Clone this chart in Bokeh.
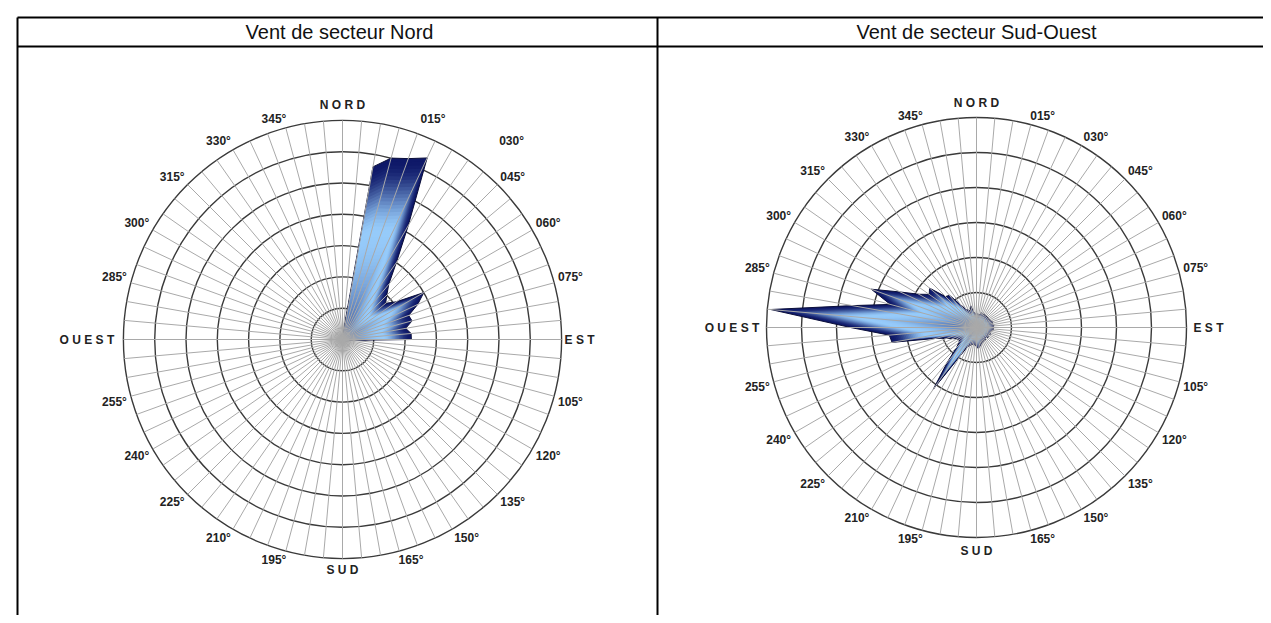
import numpy as np
from bokeh.plotting import figure
from bokeh.models import Range1d
from bokeh.embed import file_html
from bokeh.resources import INLINE
from bokeh.core.properties import value

# ---------------- DATA ----------------
directions = list(range(0, 360, 5))  # 72 wind directions (degrees)

titles = ["Vent de secteur Nord", "Vent de secteur Sud-Ouest"]

nord_values = [
    0.15, 0.2, 5.6, 6.0, 6.15, 6.4, 4.2, 3.0, 2.3, 2.0, 1.8, 2.1,      # 0-55
    3.0, 2.65, 2.25, 2.3, 2.05, 2.2, 2.2, 0.3, 0.2, 0.2, 0.15, 0.15,   # 60-115
    0.1, 0.1, 0.1, 0.1, 0.1, 0.1, 0.1, 0.1, 0.1, 0.1, 0.1, 0.1,        # 120-175
    0.1, 0.1, 0.1, 0.1, 0.1, 0.1, 0.1, 0.1, 0.1, 0.1, 0.1, 0.1,        # 180-235
    0.1, 0.1, 0.1, 0.1, 0.1, 0.1, 0.1, 0.1, 0.1, 0.1, 0.1, 0.1,        # 240-295
    0.1, 0.1, 0.1, 0.1, 0.1, 0.1, 0.1, 0.1, 0.15, 0.15, 0.15, 0.15,    # 300-355
]

sudouest_values = [
    0.35, 0.4, 0.35, 0.4, 0.45, 0.4, 0.45, 0.4, 0.45, 0.4, 0.45, 0.4,  # 0-55
    0.45, 0.45, 0.5, 0.45, 0.5, 0.5, 0.45, 0.5, 0.45, 0.45, 0.4, 0.45, # 60-115
    0.4, 0.4, 0.45, 0.4, 0.4, 0.45, 0.4, 0.45, 0.45, 0.5, 0.55, 0.6,   # 120-175
    0.55, 0.5, 0.5, 0.5, 0.55, 0.6, 0.95, 2.15, 1.3, 0.8, 0.65, 0.6,   # 180-235
    0.65, 0.75, 0.9, 1.2, 2.45, 2.5, 3.6, 5.9, 3.6, 2.55, 3.2, 2.4,    # 240-295
    1.9, 1.65, 1.75, 1.25, 1.2, 0.8, 0.6, 0.55, 0.5, 0.65, 0.45, 0.4,  # 300-355
]

label_angles = list(range(15, 360, 15))
cardinal_labels = ["N O R D", "E S T", "S U D", "O U E S T"]
cardinal_angles = [0, 90, 180, 270]

# ---------------- LAYOUT ----------------
W, H = 1263, 615
p = figure(width=W, height=H, x_range=Range1d(0, W), y_range=Range1d(H, 0),
           output_backend="svg", toolbar_location=None, min_border=0,
           x_axis_type=None, y_axis_type=None)
p.grid.visible = False
p.outline_line_color = None
p.background_fill_color = "white"

FONT = value("Liberation Sans")

# table lines
p.segment(x0=[17, 17, 17, 657], y0=[17, 46, 17, 17],
          x1=[W, W, 17, 657], y1=[17, 46, H, H],
          line_color="black", line_width=2)

p.text(x=[339, 976], y=[31, 31], text=titles, text_font=FONT, text_font_size="20px",
       text_align="center", text_baseline="middle", text_color="#111111")

DARK = np.array([14, 24, 104])
LIGHT = np.array([150, 203, 250])


def shade(k):
    if k >= 0.6:
        g = (1 - k) / 0.4
    else:
        g = 0.4 + 0.6 * k / 0.6
    g = g * g * (3 - 2 * g)
    c = DARK + (LIGHT - DARK) * g
    return "#%02x%02x%02x" % tuple(int(round(v)) for v in c)


def corner(s):
    return np.sign(s) * min(1.0, abs(s) / 0.3)


def rose(cx, cy, unit, nrings, vals, label_dx, card_gaps):
    th = np.radians(directions)
    R = unit * nrings
    # rings
    p.circle(x=[cx] * nrings, y=[cy] * nrings,
             radius=[unit * (i + 1) for i in range(nrings)],
             fill_color=None, line_color="#3a3a3a", line_width=1.4)
    v = np.array(vals)
    # gradient fill
    for k in np.linspace(1.0, 0.03, 50):
        xs = cx + k * unit * v * np.sin(th)
        ys = cy - k * unit * v * np.cos(th)
        p.patch(x=list(xs), y=list(ys), fill_color=shade(k), line_color=None)
    xs = cx + unit * v * np.sin(th)
    ys = cy - unit * v * np.cos(th)
    p.patch(x=list(xs), y=list(ys), fill_color=None, line_color="#0b0f3a", line_width=1)
    # spokes
    p.segment(x0=[cx] * len(th), y0=[cy] * len(th),
              x1=list(cx + R * np.sin(th)), y1=list(cy - R * np.cos(th)),
              line_color="#a9a9a9", line_width=1)
    # degree labels
    lx, ly, lt = [], [], []
    for a in label_angles:
        if a % 90 == 0:
            continue
        t = np.radians(a)
        s, c = np.sin(t), np.cos(t)
        d = R + 4
        x = cx + d * s + corner(s) * 12.5 + label_dx.get(a, 0)
        y = cy - d * c - corner(c) * 5
        lx.append(x)
        ly.append(y)
        lt.append("%03d°" % a)
    p.text(x=lx, y=ly, text=lt, text_font=FONT, text_font_size="12px",
           text_font_style="bold", text_align="center", text_baseline="middle",
           text_color="#222222")
    widths = [45, 30, 32, 55]
    cxl, cyl = [], []
    for a, w, g in zip(cardinal_angles, widths, card_gaps):
        t = np.radians(a)
        d = R + g + abs(np.sin(t)) * w / 2 + abs(np.cos(t)) * 5
        cxl.append(cx + d * np.sin(t))
        cyl.append(cy - d * np.cos(t))
    p.text(x=cxl, y=cyl, text=cardinal_labels, text_font=FONT, text_font_size="12px",
           text_font_style="bold", text_align="center", text_baseline="middle",
           text_color="#222222")


rose(342, 339, 31.3, 7, nord_values, {15: 22, 30: 45}, [10, 3, 6, 9])
rose(976, 327, 35.0, 6, sudouest_values, {}, [10, 7, 8, 7])

open("out.html", "w").write(file_html(p, INLINE))
